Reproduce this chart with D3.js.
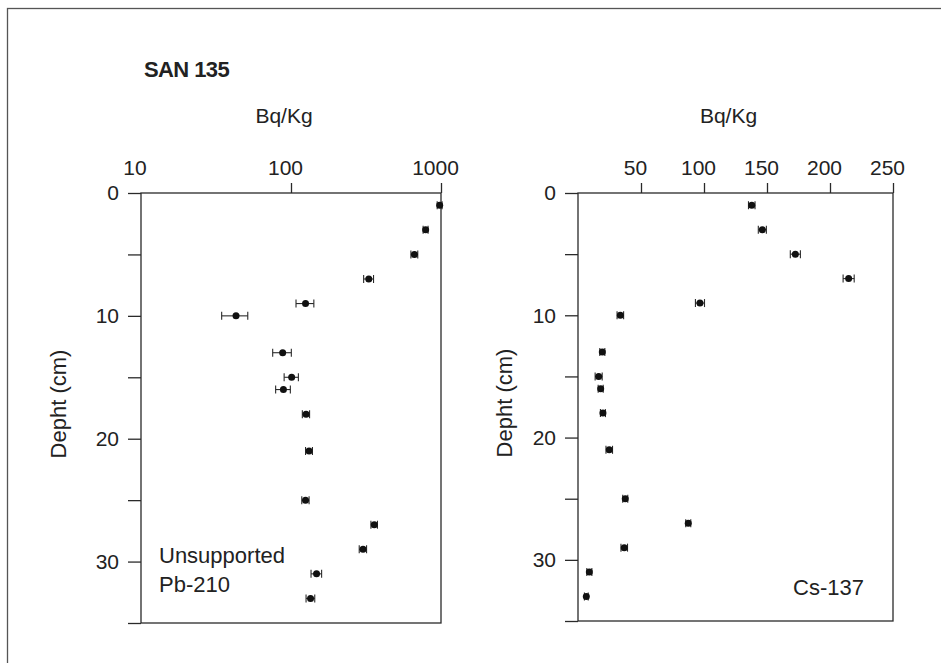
<!DOCTYPE html>
<html>
<head>
<meta charset="utf-8">
<script src="https://cdn.jsdelivr.net/npm/d3@7"></script>
<style>
  html, body { margin: 0; padding: 0; background: #fff; }
  svg { display: block; }
  text { font-family: "Liberation Sans", Arial, Helvetica, sans-serif; fill: #222; }
</style>
</head>
<body>
<svg id="chart" width="941" height="663"></svg>
<script>
// ---- Data ----
const depths = [1, 3, 5, 7, 9, 10, 13, 15, 16, 18, 21, 25, 27, 29, 31, 33];

const pbValues = [980, 790, 665, 330, 125, 43, 88, 101, 89, 126, 132, 125, 359, 302, 148, 135];
const pbErrors = [37, 30, 35, 25, 17, 8.5, 12.5, 11, 10, 7, 7, 7, 18, 17, 12, 9];

const csValues = [137.9, 146.3, 172.5, 214.8, 96.8, 33.6, 19.3, 16.4, 18, 19.8, 24.8, 37.5, 87.5, 36.7, 9, 6.6];
const csErrors = [2.6, 3.2, 4, 4.4, 3.6, 2.6, 2, 2.8, 2, 2, 2.6, 2, 2, 2.6, 2, 1.5];

const pbTicks = [100, 1000];
const pbTickLabels = ["10", "100", "1000"];
const csTicks = [50, 100, 150, 200, 250];
const depthTicks = [0, 5, 10, 15, 20, 25, 30, 35];
const depthLabels = [0, 10, 20, 30];

const title = "SAN 135";
const unitLabel = "Bq/Kg";
const depthTitle = "Depht (cm)";

// ---- Drawing ----
const svg = d3.select("#chart");
const ink = "#2a2a2a";

// outer frame (only top and left visible in the original)
svg.append("rect")
  .attr("x", 7.5).attr("y", 8.5)
  .attr("width", 1000).attr("height", 800)
  .attr("fill", "none").attr("stroke", "#555").attr("stroke-width", 1.3);

svg.append("text")
  .attr("x", 144).attr("y", 77)
  .attr("font-size", 22).attr("font-weight", "bold")
  .attr("letter-spacing", -0.6)
  .text(title);

function panel(opts) {
  const { x, y, values, errors, xTicks, xFormat, label, labelPos, depthX } = opts;
  const g = svg.append("g");
  const [x0, x1] = x.range();
  const [y0, y1] = y.range();

  // box
  g.append("rect")
    .attr("x", x0).attr("y", y0)
    .attr("width", x1 - x0).attr("height", y1 - y0)
    .attr("fill", "none").attr("stroke", ink).attr("stroke-width", 1.3);

  // top axis
  const top = g.append("g")
    .attr("transform", `translate(0,${y0})`)
    .call(d3.axisTop(x).tickValues(xTicks).tickSize(10).tickSizeOuter(0).tickPadding(8).tickFormat(xFormat));
  top.select(".domain").remove();
  top.selectAll("line").attr("stroke", ink).attr("stroke-width", 1.3);
  top.selectAll("text").attr("font-size", 21).attr("dx", -6).attr("fill", "#222")
    .attr("font-family", '"Liberation Sans", Arial, Helvetica, sans-serif');

  // left axis
  const left = g.append("g")
    .attr("transform", `translate(${x0},0)`)
    .call(d3.axisLeft(y).tickValues(depthTicks).tickSize(13).tickSizeOuter(0).tickPadding(9)
      .tickFormat(d => depthLabels.includes(d) ? d : ""));
  left.select(".domain").remove();
  left.selectAll("line").attr("stroke", ink).attr("stroke-width", 1.3);
  left.selectAll("text").attr("font-size", 21).attr("fill", "#222")
    .attr("font-family", '"Liberation Sans", Arial, Helvetica, sans-serif');

  // unit label
  g.append("text")
    .attr("x", (x0 + x1) / 2 - 7).attr("y", 123)
    .attr("text-anchor", "middle").attr("font-size", 21)
    .text(unitLabel);

  // depth title
  g.append("text")
    .attr("transform", `translate(${depthX},${(y0 + y1) / 2 - 4}) rotate(-90)`)
    .attr("text-anchor", "middle").attr("font-size", 22)
    .text(depthTitle);

  // error bars
  const data = depths.map((d, i) => ({ d, v: values[i], e: errors[i] }));
  const eb = g.append("g").attr("stroke", ink).attr("stroke-width", 1.1);
  data.forEach(p => {
    const yy = y(p.d);
    const xa = x(p.v - p.e), xb = x(p.v + p.e);
    eb.append("line").attr("x1", xa).attr("x2", xb).attr("y1", yy).attr("y2", yy);
    eb.append("line").attr("x1", xa).attr("x2", xa).attr("y1", yy - 4).attr("y2", yy + 4);
    eb.append("line").attr("x1", xb).attr("x2", xb).attr("y1", yy - 4).attr("y2", yy + 4);
  });

  g.append("g").selectAll("circle").data(data).join("circle")
    .attr("cx", p => x(p.v)).attr("cy", p => y(p.d))
    .attr("r", 3.5).attr("fill", "#111");

  // series label
  const lt = g.append("text").attr("font-size", 22);
  label.forEach((line, i) => {
    lt.append("tspan").attr("x", labelPos[0]).attr("y", labelPos[1] + i * 29).text(line);
  });
}

const xPb = d3.scaleLog().domain([10, 1000]).range([141, 441]);
const yPb = d3.scaleLinear().domain([0, 35]).range([193, 623]);
const xCs = d3.scaleLinear().domain([0, 250]).range([578, 893]);
const yCs = d3.scaleLinear().domain([0, 35]).range([193, 621]);

panel({
  x: xPb, y: yPb, values: pbValues, errors: pbErrors,
  xTicks: pbTicks, xFormat: d3.format("d"),
  label: ["Unsupported", "Pb-210"], labelPos: [159, 563], depthX: 66
});
// left panel: label "10" at the axis origin
svg.append("text")
  .attr("x", xPb(10) - 6).attr("y", 175)
  .attr("text-anchor", "middle").attr("font-size", 21)
  .text(pbTickLabels[0]);

panel({
  x: xCs, y: yCs, values: csValues, errors: csErrors,
  xTicks: csTicks, xFormat: d3.format("d"),
  label: ["Cs-137"], labelPos: [793, 595], depthX: 512
});
</script>
</body>
</html>
